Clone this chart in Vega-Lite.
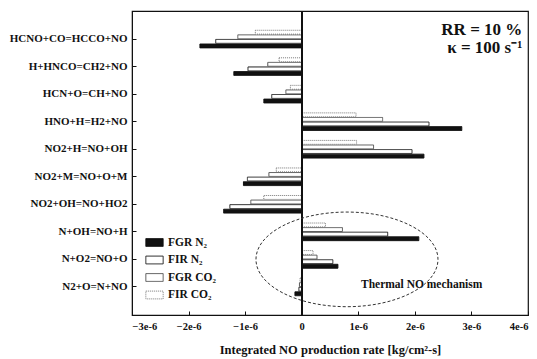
{
  "$schema": "https://vega.github.io/schema/vega-lite/v6.json",
  "width": 396,
  "height": 304,
  "autosize": {"type": "none"},
  "padding": {"left": 132, "top": 11, "right": 9, "bottom": 44},
  "background": "white",
  "config": {
    "view": {"stroke": "#111", "strokeWidth": 1.2},
    "font": "Liberation Serif",
    "axis": {"labelFont": "Liberation Serif", "labelFontWeight": "bold", "titleFont": "Liberation Serif", "titleFontWeight": "bold", "domainColor": "#111", "tickColor": "#111", "labelColor": "#111", "titleColor": "#111", "grid": false},
    "legend": {"orient": "none", "legendX": 13, "legendY": 222, "symbolType": "M-1,-0.45L1,-0.45L1,0.45L-1,0.45Z", "symbolSize": 300, "labelFont": "Liberation Serif", "labelFontWeight": "bold", "labelFontSize": 11.5, "labelColor": "#111", "rowPadding": 1.5, "labelOffset": 4, "symbolStrokeWidth": 1}
  },
  "data": {"values": [
    {"reaction": "HCNO+CO=HCCO+NO", "series": "FGR N₂", "value": -1.8e-6},
    {"reaction": "HCNO+CO=HCCO+NO", "series": "FIR N₂", "value": -1.52e-6},
    {"reaction": "HCNO+CO=HCCO+NO", "series": "FGR CO₂", "value": -1.13e-6},
    {"reaction": "HCNO+CO=HCCO+NO", "series": "FIR CO₂", "value": -0.82e-6},
    {"reaction": "H+HNCO=CH2+NO", "series": "FGR N₂", "value": -1.2e-6},
    {"reaction": "H+HNCO=CH2+NO", "series": "FIR N₂", "value": -0.95e-6},
    {"reaction": "H+HNCO=CH2+NO", "series": "FGR CO₂", "value": -0.6e-6},
    {"reaction": "H+HNCO=CH2+NO", "series": "FIR CO₂", "value": -0.4e-6},
    {"reaction": "HCN+O=CH+NO", "series": "FGR N₂", "value": -0.67e-6},
    {"reaction": "HCN+O=CH+NO", "series": "FIR N₂", "value": -0.53e-6},
    {"reaction": "HCN+O=CH+NO", "series": "FGR CO₂", "value": -0.28e-6},
    {"reaction": "HCN+O=CH+NO", "series": "FIR CO₂", "value": -0.2e-6},
    {"reaction": "HNO+H=H2+NO", "series": "FGR N₂", "value": 2.83e-6},
    {"reaction": "HNO+H=H2+NO", "series": "FIR N₂", "value": 2.25e-6},
    {"reaction": "HNO+H=H2+NO", "series": "FGR CO₂", "value": 1.43e-6},
    {"reaction": "HNO+H=H2+NO", "series": "FIR CO₂", "value": 0.96e-6},
    {"reaction": "NO2+H=NO+OH", "series": "FGR N₂", "value": 2.16e-6},
    {"reaction": "NO2+H=NO+OH", "series": "FIR N₂", "value": 1.95e-6},
    {"reaction": "NO2+H=NO+OH", "series": "FGR CO₂", "value": 1.27e-6},
    {"reaction": "NO2+H=NO+OH", "series": "FIR CO₂", "value": 0.97e-6},
    {"reaction": "NO2+M=NO+O+M", "series": "FGR N₂", "value": -1.03e-6},
    {"reaction": "NO2+M=NO+O+M", "series": "FIR N₂", "value": -0.96e-6},
    {"reaction": "NO2+M=NO+O+M", "series": "FGR CO₂", "value": -0.58e-6},
    {"reaction": "NO2+M=NO+O+M", "series": "FIR CO₂", "value": -0.45e-6},
    {"reaction": "NO2+OH=NO+HO2", "series": "FGR N₂", "value": -1.38e-6},
    {"reaction": "NO2+OH=NO+HO2", "series": "FIR N₂", "value": -1.27e-6},
    {"reaction": "NO2+OH=NO+HO2", "series": "FGR CO₂", "value": -0.9e-6},
    {"reaction": "NO2+OH=NO+HO2", "series": "FIR CO₂", "value": -0.67e-6},
    {"reaction": "N+OH=NO+H", "series": "FGR N₂", "value": 2.07e-6},
    {"reaction": "N+OH=NO+H", "series": "FIR N₂", "value": 1.52e-6},
    {"reaction": "N+OH=NO+H", "series": "FGR CO₂", "value": 0.72e-6},
    {"reaction": "N+OH=NO+H", "series": "FIR CO₂", "value": 0.42e-6},
    {"reaction": "N+O2=NO+O", "series": "FGR N₂", "value": 0.64e-6},
    {"reaction": "N+O2=NO+O", "series": "FIR N₂", "value": 0.55e-6},
    {"reaction": "N+O2=NO+O", "series": "FGR CO₂", "value": 0.27e-6},
    {"reaction": "N+O2=NO+O", "series": "FIR CO₂", "value": 0.2e-6},
    {"reaction": "N2+O=N+NO", "series": "FGR N₂", "value": -0.12e-6},
    {"reaction": "N2+O=N+NO", "series": "FIR N₂", "value": -0.05e-6},
    {"reaction": "N2+O=N+NO", "series": "FGR CO₂", "value": -0.04e-6},
    {"reaction": "N2+O=N+NO", "series": "FIR CO₂", "value": -0.03e-6}
  ]},
  "layer": [
    {
      "mark": {"type": "bar", "strokeWidth": 1},
      "encoding": {
        "y": {"field": "reaction", "type": "nominal",
          "sort": ["HCNO+CO=HCCO+NO", "H+HNCO=CH2+NO", "HCN+O=CH+NO", "HNO+H=H2+NO", "NO2+H=NO+OH", "NO2+M=NO+O+M", "NO2+OH=NO+HO2", "N+OH=NO+H", "N+O2=NO+O", "N2+O=N+NO"],
          "scale": {"paddingInner": 0.36, "paddingOuter": 0.7},
          "axis": {"title": null, "labelFontSize": 11, "tickSize": -4, "labelPadding": 9, "labelLimit": 200}},
        "yOffset": {"field": "series", "type": "nominal", "sort": ["FIR CO₂", "FGR CO₂", "FIR N₂", "FGR N₂"], "scale": {"paddingInner": 0.15}},
        "x": {"field": "value", "type": "quantitative",
          "scale": {"domain": [-3e-6, 4e-6], "nice": false},
          "axis": {"title": "Integrated NO production rate [kg/cm²-s]", "values": [-3e-6, -2e-6, -1e-6, 0, 1e-6, 2e-6, 3e-6, 4e-6], "labelExpr": "datum.value == 0 ? '0' : format(datum.value, '.0e')", "labelFontSize": 10.5, "tickSize": -4, "labelPadding": 10, "titleFontSize": 12.5, "titlePadding": 12}},
        "fill": {"field": "series", "type": "nominal", "scale": {"domain": ["FGR N₂", "FIR N₂", "FGR CO₂", "FIR CO₂"], "range": ["#111111", "#ffffff", "#ffffff", "#ffffff"]}, "legend": {"title": null}},
        "stroke": {"field": "series", "type": "nominal", "scale": {"domain": ["FGR N₂", "FIR N₂", "FGR CO₂", "FIR CO₂"], "range": ["#111111", "#222222", "#555555", "#777777"]}, "legend": {"title": null}},
        "strokeDash": {"field": "series", "type": "nominal", "scale": {"domain": ["FGR N₂", "FIR N₂", "FGR CO₂", "FIR CO₂"], "range": [[1, 0], [1, 0], [1, 0], [1, 1]]}, "legend": {"title": null}}
      }
    },
    {
      "mark": {"type": "rule", "color": "#111", "strokeWidth": 1.2},
      "encoding": {"x": {"datum": 0, "type": "quantitative"}}
    },
    {
      "data": {"values": [{"label": "RR  =  10 %"}]},
      "mark": {"type": "text", "align": "right", "baseline": "middle", "dy": -9, "fontSize": 17, "fontWeight": "bold", "font": "Liberation Serif", "color": "#111"},
      "encoding": {"x": {"datum": 3.9e-6, "type": "quantitative"}, "y": {"datum": "HCNO+CO=HCCO+NO", "type": "nominal"}, "text": {"field": "label"}}
    },
    {
      "data": {"values": [{"label": "κ  =  100 s⁻¹"}]},
      "mark": {"type": "text", "align": "right", "baseline": "middle", "dy": 9, "fontSize": 17, "fontWeight": "bold", "font": "Liberation Serif", "color": "#111"},
      "encoding": {"x": {"datum": 3.9e-6, "type": "quantitative"}, "y": {"datum": "HCNO+CO=HCCO+NO", "type": "nominal"}, "text": {"field": "label"}}
    },
    {
      "data": {"values": [{"label": "Thermal NO mechanism"}]},
      "mark": {"type": "text", "align": "center", "baseline": "middle", "dy": -2, "fontSize": 11.5, "fontWeight": "bold", "font": "Liberation Serif", "color": "#111"},
      "encoding": {"x": {"datum": 2.12e-6, "type": "quantitative"}, "y": {"datum": "N2+O=N+NO", "type": "nominal"}, "text": {"field": "label"}}
    },
    {
      "data": {"values": [{"label": "ellipse"}]},
      "mark": {"type": "point", "shape": "M-1,0C-1,-0.287,-0.552,-0.52,0,-0.52C0.552,-0.52,1,-0.287,1,0C1,0.287,0.552,0.52,0,0.52C-0.552,0.52,-1,0.287,-1,0Z", "size": 33124, "filled": false, "stroke": "#333", "strokeWidth": 1, "strokeDash": [3, 2], "opacity": 1},
      "encoding": {"x": {"datum": 0.8e-6, "type": "quantitative"}, "y": {"datum": "N+O2=NO+O", "type": "nominal"}}
    }
  ]
}
